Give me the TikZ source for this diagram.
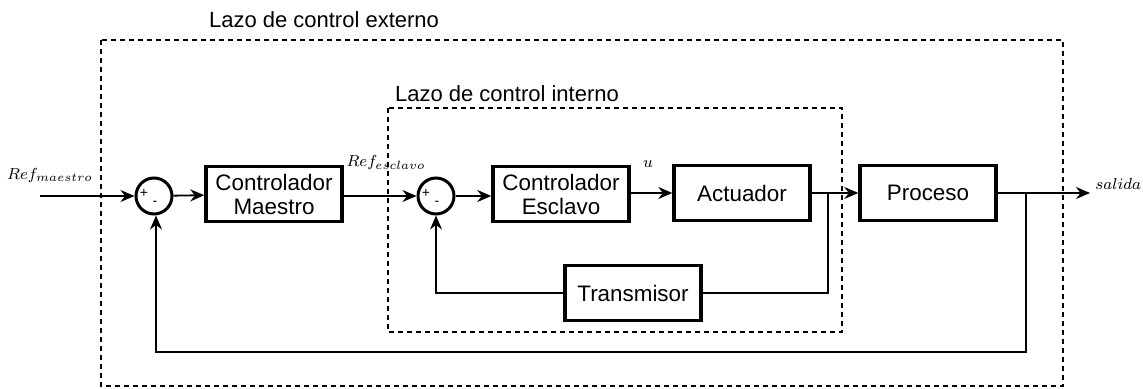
\documentclass[tikz,border=0pt]{standalone}
\usepackage{fontspec}
\setmainfont{Liberation Sans}
\usetikzlibrary{arrows.meta}
\tikzset{
  blk/.style={draw, line width=1.7pt, minimum width=68pt, minimum height=27.5pt, align=center, font=\fontsize{11.2}{12}\selectfont},
  sumc/.style={draw, circle, line width=1.5pt, minimum size=18pt, inner sep=0pt},
  sgn/.style={inner sep=0pt, font=\fontsize{7}{7}\selectfont},
  sig/.style={line width=0.9pt, -{Stealth[length=7pt, width=6pt]}},
  wire/.style={line width=0.9pt},
  loopbox/.style={draw, dashed, line width=0.8pt, dash pattern=on 2.5pt off 2pt},
  ttl/.style={font=\fontsize{11}{12}\selectfont},
  mlbl/.style={inner sep=0pt, font=\footnotesize}
}
\begin{document}
\begin{tikzpicture}[x=0.5pt,y=-0.5pt]
   \useasboundingbox (0,0) rectangle (1143,389);
   \draw[loopbox] (101,40) rectangle (1063,386);
   \draw[loopbox] (388,108) rectangle (842,332);
   \node[ttl] (ext) at (324,20) {Lazo de control externo};
   \node[ttl] (int) at (507,94) {Lazo de control interno};
   \coordinate (in) at (40,196);
   \node[sumc] (s1) at (154,196) {};
   \node[sgn] at ([shift={(-10,-3)}]s1.center) {+};
   \node[sgn] at ([shift={(1,7)}]s1.center) {-};
   \node[blk] (cm) at (274,194) {Controlador\\Maestro};
   \node[sumc] (s2) at (436,196) {};
   \node[sgn] at ([shift={(-10,-3)}]s2.center) {+};
   \node[sgn] at ([shift={(1,7)}]s2.center) {-};
   \node[blk] (ce) at (561,194) {Controlador\\Esclavo};
   \node[blk] (act) at (742,193) {Actuador};
   \node[blk] (pro) at (928,193) {Proceso};
   \node[blk] (tr) at (633,293) {Transmisor};
   \coordinate (out) at (1090,193);
   \coordinate (b1) at (828,193);
   \coordinate (b2) at (1026,193);
   \node[mlbl] (rm) at (50,176) {$Ref_{maestro}$};
   \node[mlbl] (re) at (386,163) {$Ref_{esclavo}$};
   \node[mlbl] (u) at (648,164) {$u$};
   \node[mlbl, anchor=west] (sal) at (1095,184) {$salida$};
   \draw[sig] (in) -- (s1);
   \draw[sig] (s1) -- (cm);
   \draw[sig] (cm.east |- s2) -- (s2);
   \draw[sig] (s2) -- (ce.west |- s2);
   \draw[sig] (ce.east |- act) -- (act);
   \draw[sig] (act) -- (pro);
   \draw[sig] (pro) -- (out);
   \draw[wire] (b1) |- (tr.east);
   \draw[sig] (tr.west) -| (s2.south);
   \draw[sig] (b2) |- (156,352) -- (s1.south -| 156,0);
\end{tikzpicture}
\end{document}
